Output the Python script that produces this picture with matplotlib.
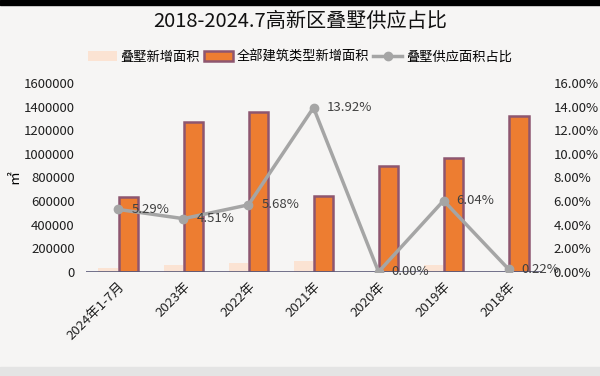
import matplotlib.pyplot as plt
import matplotlib.patches as mpatches
from matplotlib.ticker import FuncFormatter
import numpy as np

plt.rcParams['font.family'] = ['Noto Sans CJK SC', 'DejaVu Sans']

categories = ["2024年1-7月", "2023年", "2022年", "2021年", "2020年", "2019年", "2018年"]
total_area = [632000, 1268000, 1355000, 643000, 897000, 962000, 1322000]
villa_ratio = [5.29, 4.51, 5.68, 13.92, 0.00, 6.04, 0.22]
villa_area = [33400, 57200, 77000, 89500, 0, 58100, 2900]

bg = "#F6F5F4"
fig = plt.figure(figsize=(6, 3.76), dpi=100, facecolor=bg)
ax = fig.add_axes([0.143, 0.277, 0.759, 0.502])
ax.set_facecolor(bg)
ax2 = ax.twinx()

x = np.arange(len(categories))
w = 0.3
ax.bar(x - 0.155, villa_area, w, color="#FBE3D3", edgecolor="none",
       label="叠墅新增面积", zorder=2)
ax.bar(x + 0.155, total_area, w, color="#ED7D31", edgecolor="#8E566F",
       linewidth=1.8, label="全部建筑类型新增面积", zorder=2)

ax2.plot(x, [v / 100 for v in villa_ratio], color="#A5A5A5", lw=2.5,
         marker="o", ms=6, label="叠墅供应面积占比", zorder=5)
for xi, v in zip(x, villa_ratio):
    ax2.text(xi + 0.2, v / 100, f"{v:.2f}%", fontsize=9.5, color="#404040",
             ha="left", va="center", zorder=6)

ax.set_xlim(-0.5, len(categories) - 0.5)
ax.set_ylim(0, 1600000)
ax.set_yticks(np.arange(0, 1600001, 200000))
ax.yaxis.set_major_formatter(FuncFormatter(lambda v, p: f"{int(v)}"))
ax2.set_ylim(0, 0.16)
ax2.set_yticks(np.arange(0, 0.1601, 0.02))
ax2.yaxis.set_major_formatter(FuncFormatter(lambda v, p: f"{v * 100:.2f}%"))

ax.set_xticks(x)
ax.set_xticklabels(categories, rotation=45, ha="right", rotation_mode="anchor",
                   fontsize=9.5, color="#202020")
for a in (ax, ax2):
    for s in ("top", "left", "right", "bottom"):
        a.spines[s].set_visible(False)
    a.tick_params(length=0, labelsize=9.5, colors="#202020")
ax.axhline(0, color="#5A5A78", lw=1.2, zorder=3)
ax.tick_params(axis="y", pad=8)
ax2.tick_params(axis="y", pad=9)
ax.tick_params(axis="x", pad=6)

ax.set_ylabel("㎡", fontsize=10, labelpad=2)

fig.text(0.5, 0.942, "2018-2024.7高新区叠墅供应占比", ha="center", va="center",
         fontsize=14.5, color="#111111")

h1, l1 = ax.get_legend_handles_labels()
h2, l2 = ax2.get_legend_handles_labels()
fig.legend(h1 + h2, l1 + l2, loc="center", bbox_to_anchor=(0.5, 0.848), ncol=3,
           frameon=False, fontsize=9.5, handlelength=2.2, columnspacing=0.3,
           handletextpad=0.3)

fig.patches.append(mpatches.Rectangle((0, 0.988), 1, 0.012, transform=fig.transFigure,
                                      color="black", zorder=10))
fig.patches.append(mpatches.Rectangle((0, 0), 1, 0.025, transform=fig.transFigure,
                                      color="#E4E4E4", zorder=10))

fig.savefig("out.png", dpi=100, facecolor=bg)
